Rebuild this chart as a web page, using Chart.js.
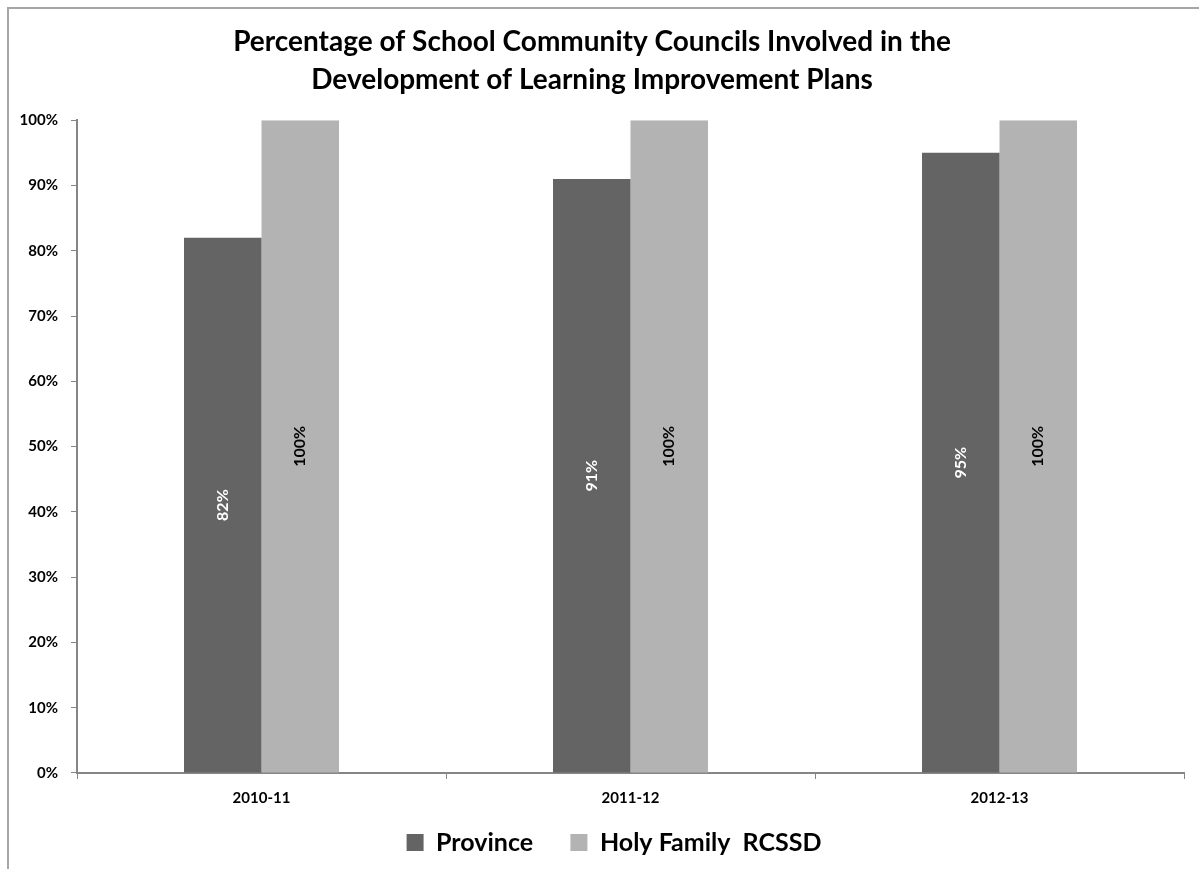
<!DOCTYPE html>
<html>
<head>
<meta charset="utf-8">
<script src="https://cdn.jsdelivr.net/npm/chart.js@4.4.0/dist/chart.umd.min.js"></script>
<style>
  html, body { margin: 0; padding: 0; background: #ffffff; }
  #frame { position: absolute; left: 7px; top: 7px; width: 1300px; height: 1000px;
           border-left: 2px solid #a6a6a6; border-top: 2px solid #a6a6a6; }
  #wrap { position: absolute; left: 0; top: 0; width: 1199px; height: 869px; }
</style>
</head>
<body>
<div id="frame"></div>
<div id="wrap"><canvas id="c" width="1199" height="869"></canvas></div>
<script>
const titleLines = ["Percentage of School Community Councils Involved in the", "Development of Learning Improvement Plans"];
const categories = ["2010-11", "2011-12", "2012-13"];
const seriesNames = ["Province", "Holy Family  RCSSD"];
const provinceValues = [82, 91, 95];
const holyFamilyValues = [100, 100, 100];
const yTickValues = [0, 10, 20, 30, 40, 50, 60, 70, 80, 90, 100];

const FONT = "Lato, 'Open Sans', sans-serif";
const AXIS = "#868686";

const barLabels = {
  id: "barLabels",
  afterDatasetsDraw(chart) {
    const ctx = chart.ctx;
    const colors = ["#ffffff", "#000000"];
    chart.data.datasets.forEach((ds, di) => {
      const meta = chart.getDatasetMeta(di);
      meta.data.forEach((bar, i) => {
        const cy = (bar.y + bar.base) / 2;
        ctx.save();
        ctx.translate(bar.x, cy);
        ctx.rotate(-Math.PI / 2);
        ctx.font = "bold 16px " + FONT;
        ctx.fillStyle = colors[di];
        ctx.textAlign = "center";
        ctx.textBaseline = "middle";
        ctx.fillText(ds.data[i] + "%", 0, 0);
        ctx.restore();
      });
    });
  }
};

const legendShift = {
  id: "legendShift",
  afterUpdate(chart) {
    if (chart.legend) { chart.legend.left += 44; }
  }
};

new Chart(document.getElementById("c"), {
  type: "bar",
  data: {
    labels: categories,
    datasets: [
      { label: seriesNames[0], data: provinceValues, backgroundColor: "#646464", borderWidth: 0 },
      { label: seriesNames[1], data: holyFamilyValues, backgroundColor: "#b3b3b3", borderWidth: 0 }
    ]
  },
  options: {
    responsive: false,
    animation: false,
    devicePixelRatio: 1,
    layout: { padding: { left: 0, right: 15, top: 0, bottom: 4 } },
    datasets: { bar: { categoryPercentage: 0.42, barPercentage: 1.0 } },
    plugins: {
      title: {
        display: true,
        text: titleLines,
        color: "#000000",
        font: { family: FONT, size: 28, weight: "bold", lineHeight: 1.36 },
        padding: { top: 23, bottom: 21 }
      },
      legend: {
        display: true,
        position: "bottom",
        labels: {
          color: "#000000",
          font: { family: FONT, size: 25, weight: "bold" },
          boxWidth: 17, boxHeight: 17, padding: 13,
          generateLabels(chart) {
            const items = Chart.defaults.plugins.legend.labels.generateLabels(chart);
            if (items.length) { items[0].text = items[0].text + "    "; }
            return items;
          }
        }
      },
      tooltip: { enabled: false }
    },
    scales: {
      x: {
        grid: { display: true, drawOnChartArea: false, drawTicks: true, tickLength: 6, color: AXIS, lineWidth: 1, offset: true },
        border: { display: true, color: AXIS, width: 2 },
        ticks: { color: "#000000", font: { family: FONT, size: 15, weight: "bold" }, padding: 10, maxRotation: 0 }
      },
      y: {
        min: 0, max: 100,
        afterFit(scale) { scale.width = 77; },
        afterBuildTicks(scale) { scale.ticks = yTickValues.map(v => ({ value: v })); },
        grid: { display: true, drawOnChartArea: false, drawTicks: true, tickLength: 6, color: AXIS },
        border: { display: true, color: AXIS, width: 2 },
        ticks: { color: "#000000", font: { family: FONT, size: 15, weight: "bold" }, padding: 13,
                 callback: v => v + "%" }
      }
    }
  },
  plugins: [barLabels, legendShift]
});
</script>
</body>
</html>
